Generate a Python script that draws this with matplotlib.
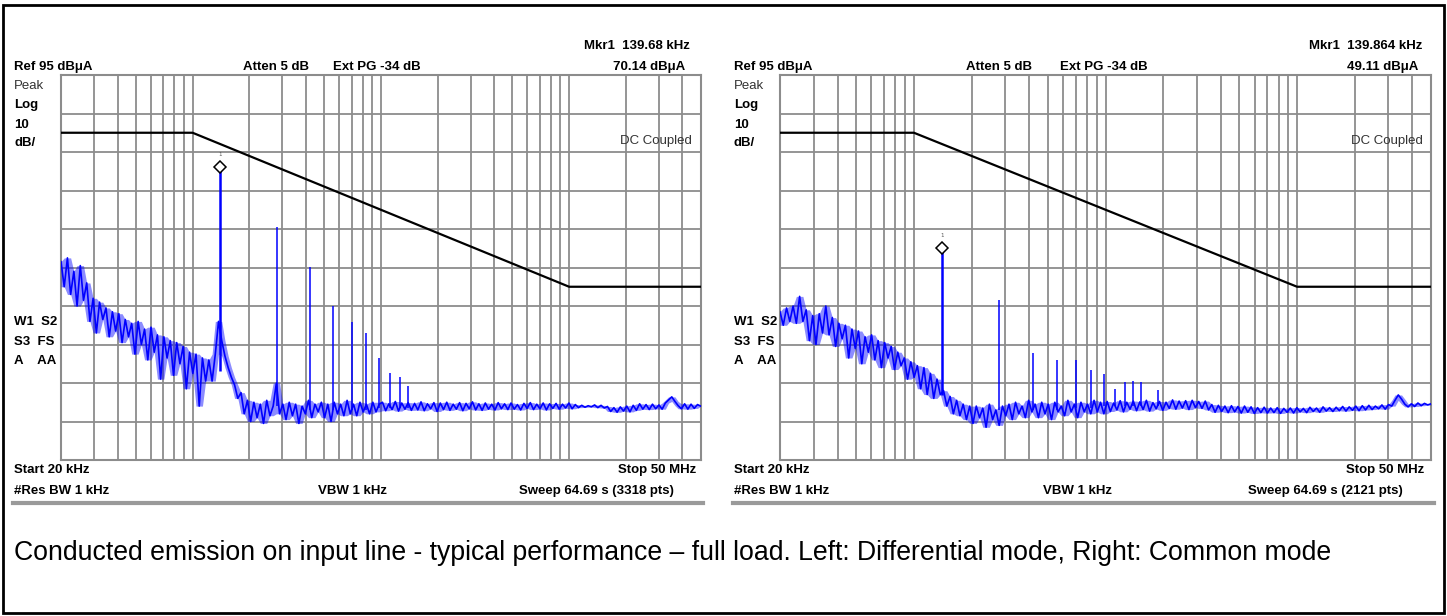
import numpy as np
import matplotlib
matplotlib.use("Agg")
import matplotlib.pyplot as plt
from matplotlib.ticker import FixedLocator, NullFormatter
import matplotlib.transforms as mtransforms
from matplotlib.lines import Line2D
from matplotlib.patches import Rectangle

W, H = 1447, 616

# ---------------- data ----------------
START_HZ = 20e3
STOP_HZ = 50e6
N_SWEEP = 200          # displayed sweep points (log spaced from Start to Stop)

limit_freq_khz = [20, 100, 10000, 50000]
limit_level = [80, 80, 40, 40]

# Differential mode trace (dBuA), one value per displayed sweep point
dm_levels = [
    46.5, 40, 47.5, 38, 44, 35, 45.5, 36.5, 41, 31,
    37, 28, 36, 31.5, 34.5, 27, 33.5, 28.5, 33, 25.5,
    31.5, 27, 30.5, 22.5, 31, 25, 29, 21, 29.5, 23,
    27.5, 16, 27, 21.5, 26, 17, 25.5, 20, 24.5, 13.5,
    23, 17.5, 22.5, 9, 21.5, 15.5, 21, 15.5, 22.5, 31,
    26, 22, 19, 16.5, 14.5, 11, 12.5, 7, 10.5,
    5, 10, 6, 9.5, 4.5, 10.5, 6.5, 9, 15, 7,
    9.5, 5.5, 10, 6.5, 9.5, 4.5, 9, 7, 10.5, 6,
    9.5, 7.5, 10, 6, 9.5, 5, 10, 7, 9.5, 6.5,
    10.5, 7, 9.5, 6.5, 10, 7.5, 9.5, 7, 10, 7.5,
    9.5,
    10, 7.8, 9.6, 8.1, 10.2, 7.7, 9.8, 8.2, 9.9, 7.9,
    9.7, 8.0, 10.1, 7.8, 9.6, 8.3, 9.9, 7.6, 9.8, 8.1,
    10.0, 7.9, 9.5, 8.2, 9.9, 7.8, 9.7, 8.3, 10.1, 8.0,
    9.6, 7.9, 9.8, 8.2, 9.5, 8.0, 9.9, 8.3, 9.6, 8.1,
    9.8, 8.2, 9.4, 8.0, 9.7, 8.4, 9.9, 8.1, 9.5, 8.3,
    9.8, 8.0, 9.6, 8.4, 9.7, 8.2, 9.5, 8.5, 9.8, 8.3,
    9.4, 8.6, 9.2, 8.7, 9.1, 8.8, 9.3, 8.6, 9.2, 8.5,
    8.9, 7.6, 8.6, 7.4, 8.8, 7.7, 9.0, 7.5, 9.2, 7.9,
    9.6, 8.2, 9.4, 8.1, 9.5, 8.3, 9.3, 8.2, 9.8, 10.6,
    11.4, 10.2, 9.1, 8.3, 9.6, 8.2, 9.5, 8.4, 9.4, 9.0,
]

# Common mode trace (dBuA)
cm_levels = [
    33.5, 30, 34.5, 31, 35, 30.5, 37.5, 31, 34, 26,
    32.5, 25, 33, 28, 35, 27.5, 32, 24.5, 30.5, 26.5,
    30, 21.5, 29, 24, 28.5, 20, 27, 23, 27.5, 21,
    26, 19, 25.5, 21.5, 24.5, 18.5, 23, 19.5, 21.5, 16,
    20.5, 16.5, 19.5, 13.5, 19, 12, 17.5, 11, 16, 12,
    13, 9, 11.5, 7, 10.5, 6.5, 9.5, 5.5, 9,
    4.5, 9, 6, 8.5, 3.5, 9.5, 5.5, 8, 4, 9,
    6.5, 9.5, 5.5, 10, 7, 9, 6, 10.5, 7.5, 9.5,
    6, 10, 7, 9.5, 5.5, 10, 7.5, 9, 6.5, 10.5,
    7.5, 9.5, 6, 10, 7.5, 9.5, 7, 10.5, 7.5, 10,
    7,
    10.2, 7.6, 9.8, 8.0, 10.4, 7.5, 10.0, 8.2, 10.3, 7.8,
    10.1, 8.1, 10.5, 7.7, 9.9, 8.3, 10.2, 7.9, 10.0, 8.4,
    10.6, 8.2, 10.3, 8.5, 10.4, 8.1, 10.5, 8.6, 10.2, 8.4,
    10.3, 8.0, 9.4, 7.4, 9.2, 7.6, 9.0, 7.3, 9.1, 7.5,
    8.9, 7.2, 9.0, 7.4, 8.8, 7.1, 8.6, 7.3, 8.7, 7.2,
    8.5, 7.3, 8.6, 7.1, 8.4, 7.4, 8.5, 7.2, 8.6, 7.5,
    8.4, 7.3, 8.7, 7.6, 8.5, 7.4, 8.8, 7.7, 8.6, 7.6,
    8.7, 7.8, 8.9, 7.7, 8.8, 7.9, 9.0, 7.8, 9.1, 8.0,
    9.2, 8.1, 9.0, 8.3, 9.3, 8.2, 9.4, 9.0, 10.5, 11.9,
    10.8, 9.5, 8.8, 9.6, 8.9, 9.8, 9.1, 9.7, 9.3, 9.6,
]

# Switching harmonics (narrow spectral lines)
dm_spike_khz = [139.68, 279.4, 419.0, 558.7, 698.4, 838.1, 977.8, 1117.4, 1257.1, 1396.8]
dm_spike_top = [70.14, 55.5, 45.1, 35.0, 30.8, 28.0, 21.5, 17.6, 16.6, 14.2]
dm_spike_base = [18, 9, 8, 8, 8, 8, 8.5, 8.5, 8.5, 8.5]

cm_spike_khz = [139.864, 279.7, 419.6, 559.5, 699.3, 839.2, 979.0, 1118.9, 1258.7, 1398.6, 1538.5, 1888.0]
cm_spike_top = [49.11, 36.6, 22.9, 21.0, 21.0, 18.4, 17.3, 13.4, 15.3, 15.6, 15.3, 13.2]
cm_spike_base = [12, 8, 8, 8, 8.5, 8.5, 9, 9, 9, 9, 9, 9]

dm_marker = (139.68, 70.14)
cm_marker = (139.864, 49.11)

# ---------------- figure ----------------
fig = plt.figure(figsize=(W / 100, H / 100), dpi=100)
fig.patch.set_facecolor("white")

FAM = ["Liberation Sans Narrow", "Liberation Sans", "DejaVu Sans"]
GRID = "#8c8c8c"
BLUE = "#0000ff"

sweep_hz = np.geomspace(START_HZ, STOP_HZ, N_SWEEP)
grid_x = [m * 10.0 ** k for k in range(4, 8) for m in range(1, 10)
          if START_HZ < m * 10.0 ** k < STOP_HZ]


def make_axes(x0, x1, y0=75, y1=460):
    ax = fig.add_axes([x0 / W, (H - y1) / H, (x1 - x0) / W, (y1 - y0) / H])
    ax.set_xscale("log")
    ax.set_xlim(START_HZ, STOP_HZ)
    ax.set_ylim(-5, 95)
    ax.xaxis.set_major_locator(FixedLocator(grid_x))
    ax.xaxis.set_minor_locator(FixedLocator([]))
    ax.xaxis.set_major_formatter(NullFormatter())
    ax.xaxis.set_minor_formatter(NullFormatter())
    ax.set_yticks(np.arange(-5, 96, 10))
    ax.yaxis.set_major_formatter(NullFormatter())
    ax.tick_params(length=0, which="both")
    ax.grid(True, which="major", color=GRID, lw=1.3)
    for s in ax.spines.values():
        s.set_color(GRID)
        s.set_linewidth(1.5)
    ax.set_facecolor("white")
    return ax


def draw_panel(ax, levels, sp_khz, sp_top, sp_base, marker):
    ax.plot(np.array(limit_freq_khz) * 1e3, limit_level,
            color="black", lw=1.6, zorder=3)
    lv = np.asarray(levels, dtype=float)
    prev_ = np.concatenate([lv[:1], lv[:-1]])
    next_ = np.concatenate([lv[1:], lv[-1:]])
    env_lo = np.minimum(np.minimum(prev_, lv), next_)
    env_hi = np.maximum(np.maximum(prev_, lv), next_)
    ax.fill_between(sweep_hz, env_lo, env_hi, color=BLUE, alpha=0.45, lw=0, zorder=4)
    ax.plot(sweep_hz, lv, color=BLUE, lw=1.2, zorder=4)
    f = np.array(sp_khz) * 1e3
    ax.vlines(f[0], sp_base[0], sp_top[0], color=BLUE, lw=1.8, zorder=4)
    ax.vlines(f[1:], sp_base[1:], sp_top[1:], color=BLUE, lw=1.1, zorder=4)
    tr = mtransforms.offset_copy(ax.transData, fig=fig, y=4, units="dots")
    ax.plot([marker[0] * 1e3], [marker[1]], marker="D", ms=6, mfc="white",
            mec="black", mew=1.1, transform=tr, zorder=5, clip_on=False)
    tr2 = mtransforms.offset_copy(ax.transData, fig=fig, y=16, units="dots")
    ax.text(marker[0] * 1e3, marker[1], "1", transform=tr2, fontsize=4,
            ha="center", va="center", color="#555555")


axL = make_axes(61, 700.7)
draw_panel(axL, dm_levels, dm_spike_khz, dm_spike_top, dm_spike_base, dm_marker)
axR = make_axes(780, 1431)
draw_panel(axR, cm_levels, cm_spike_khz, cm_spike_top, cm_spike_base, cm_marker)


def t(x, y, s, ha="left", bold=True, size=9.5, color="black"):
    fig.text(x / W, 1 - y / H, s, ha=ha, va="center", fontsize=size,
             fontweight="bold" if bold else "normal", color=color, family=FAM)


def panel_text(dx, mkr, val, pts, atten_x, ext_x, vbw_x, mkr_r, val_r, dc_r, stop_r, sweep_r):
    t(mkr_r, 46, mkr, ha="right")
    t(14 + dx, 67, "Ref 95 dBμA")
    t(atten_x, 67, "Atten 5 dB")
    t(ext_x, 67, "Ext PG -34 dB")
    t(val_r, 67, val, ha="right")
    t(14 + dx, 86, "Peak", bold=False, color="#333333")
    t(14 + dx, 105, "Log")
    t(14 + dx, 125, "10")
    t(14 + dx, 143, "dB/")
    t(dc_r, 141, "DC Coupled", ha="right", bold=False, color="#333333")
    t(14 + dx, 322, "W1  S2")
    t(14 + dx, 342, "S3  FS")
    t(14 + dx, 361, "A    AA")
    t(14 + dx, 470, "Start 20 kHz")
    t(stop_r, 470, "Stop 50 MHz", ha="right")
    t(14 + dx, 491, "#Res BW 1 kHz")
    t(vbw_x, 491, "VBW 1 kHz")
    t(sweep_r, 491, "Sweep 64.69 s (%s pts)" % pts, ha="right")


panel_text(0, "Mkr1  139.68 kHz", "70.14 dBμA", "3318", 243, 333, 318, 690, 685, 692, 696, 674)
panel_text(720, "Mkr1  139.864 kHz", "49.11 dBμA", "2121", 966, 1060, 1043, 1422, 1418, 1423, 1424, 1403)

# separator bars under each analyzer screen
for x0, x1 in [(13, 703), (733, 1434)]:
    fig.add_artist(Line2D([x0 / W, x1 / W], [1 - 503 / H] * 2, color="#9a9a9a", lw=3))

# caption
fig.text(14 / W, 1 - 553 / H,
         "Conducted emission on input line - typical performance \u2013 full load. "
         "Left: Differential mode, Right: Common mode",
         ha="left", va="center", fontsize=19.2, family=["Liberation Sans", "DejaVu Sans"])

# outer frame
fig.add_artist(Rectangle((3 / W, 3 / H), (1441) / W, (608) / H, transform=fig.transFigure,
                         fill=False, edgecolor="black", lw=2))

fig.savefig("out.png", dpi=100, facecolor="white")
